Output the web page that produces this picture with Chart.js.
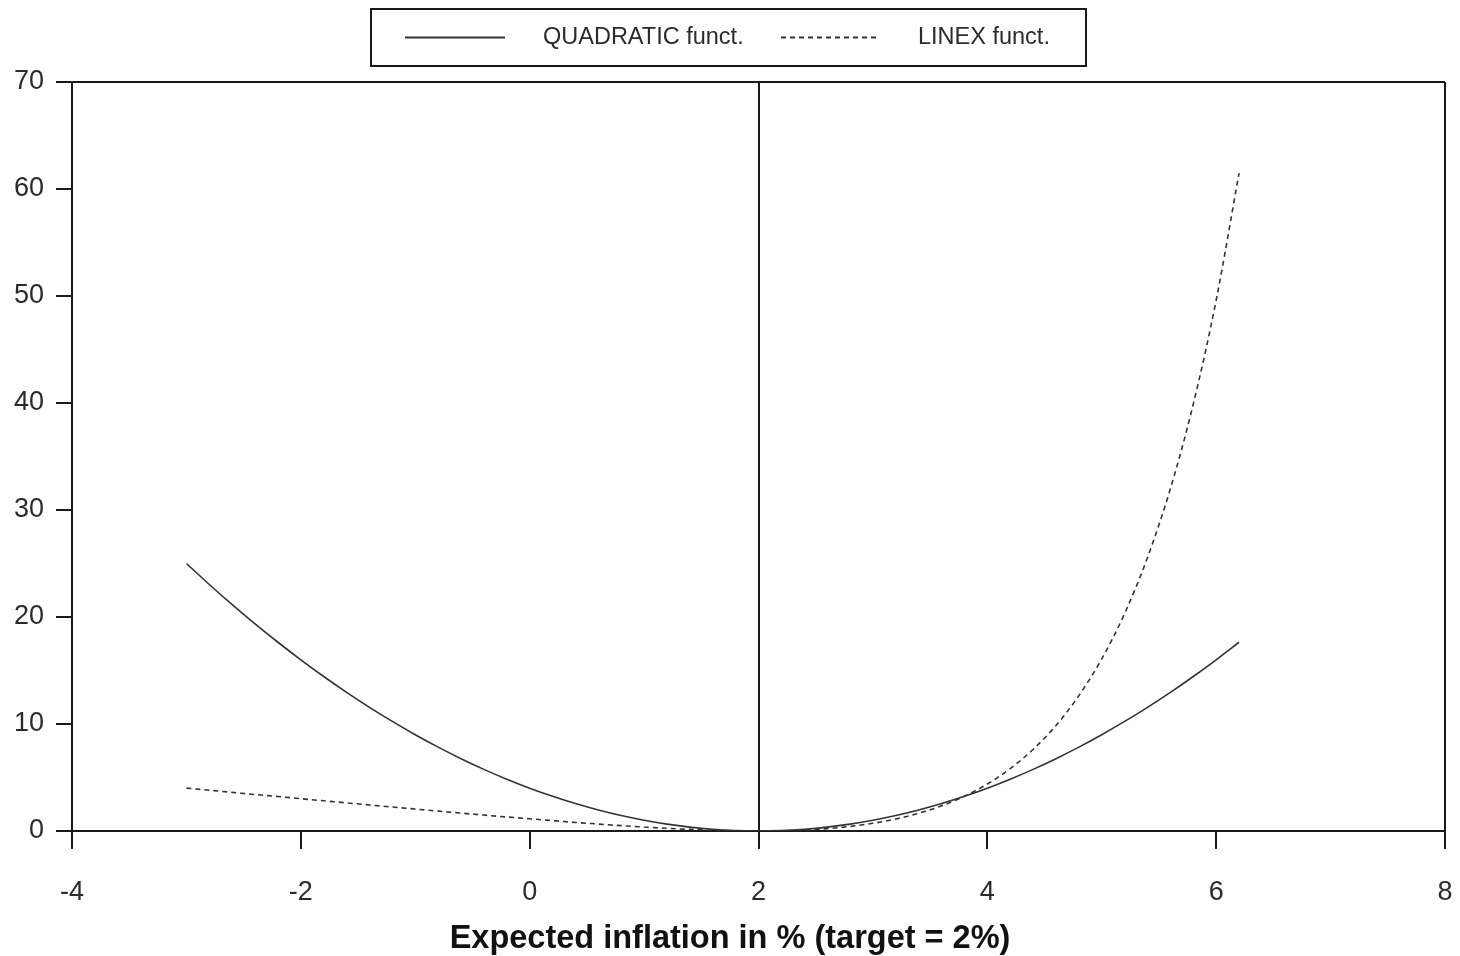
<!DOCTYPE html>
<html>
<head>
<meta charset="utf-8">
<title>Quadratic vs LINEX loss</title>
<script src="https://cdn.jsdelivr.net/npm/chart.js@4.4.1/dist/chart.umd.min.js"></script>
<style>
  html, body { margin: 0; padding: 0; background: #ffffff; }
  #wrap { width: 1460px; height: 956px; }
</style>
</head>
<body>
<div id="wrap"><canvas id="chart" width="1460" height="956"></canvas></div>
<script>
// Expected inflation (%) at which each loss is evaluated
const inflation = [-3, -2.8, -2.6, -2.4, -2.2, -2, -1.8, -1.6, -1.4, -1.2, -1, -0.8, -0.6, -0.4, -0.2,
  0, 0.2, 0.4, 0.6, 0.8, 1, 1.2, 1.4, 1.6, 1.8, 2, 2.2, 2.4, 2.6, 2.8, 3, 3.2, 3.4, 3.6, 3.8,
  4, 4.2, 4.4, 4.6, 4.8, 5, 5.2, 5.4, 5.6, 5.8, 6, 6.2];

// Loss values for the two functions
const quadraticLoss = [25, 23.04, 21.16, 19.36, 17.64, 16, 14.44, 12.96, 11.56, 10.24, 9, 7.84, 6.76, 5.76, 4.84,
  4, 3.24, 2.56, 1.96, 1.44, 1, 0.64, 0.36, 0.16, 0.04, 0, 0.04, 0.16, 0.36, 0.64, 1, 1.44, 1.96, 2.56, 3.24,
  4, 4.84, 5.76, 6.76, 7.84, 9, 10.24, 11.56, 12.96, 14.44, 16, 17.64];
const linexLoss = [4.01, 3.81, 3.61, 3.41, 3.22, 3.02, 2.82, 2.63, 2.43, 2.24, 2.05, 1.86, 1.67, 1.49, 1.31,
  1.14, 0.97, 0.80, 0.65, 0.50, 0.37, 0.25, 0.15, 0.07, 0.02, 0, 0.02, 0.09, 0.22, 0.43, 0.72, 1.12, 1.66, 2.35, 3.25,
  4.39, 5.83, 7.62, 9.86, 12.65, 16.09, 20.33, 25.56, 32.00, 39.90, 49.60, 61.49];

const seriesLabels = ['QUADRATIC funct.', 'LINEX funct.'];
const xTicks = [-4, -2, 0, 2, 4, 6, 8];
const yTicks = [0, 10, 20, 30, 40, 50, 60, 70];
const inflationTarget = 2;
const axisTitle = 'Expected inflation in % (target = 2%)';

const FONT = '"Liberation Sans", Arial, Helvetica, sans-serif';
const INK = '#1a1a1a';
const TEXT = '#2b2b2b';

function points(ys) {
  return inflation.map((x, i) => ({ x: x, y: ys[i] }));
}

// Framed legend drawn across the top of the canvas
const framedLegend = {
  id: 'framedLegend',
  afterDraw(chart) {
    const ctx = chart.ctx;
    ctx.save();
    ctx.strokeStyle = INK;
    ctx.lineWidth = 2;
    ctx.setLineDash([]);
    ctx.strokeRect(371, 9, 715, 57);

    const rowY = 37.5;
    const items = [
      { lineFrom: 405, lineTo: 505, textX: 543 },
      { lineFrom: 781, lineTo: 880, textX: 918 }
    ];
    chart.data.datasets.forEach((ds, i) => {
      const it = items[i];
      ctx.beginPath();
      ctx.strokeStyle = ds.borderColor;
      ctx.lineWidth = 2;
      ctx.setLineDash(ds.borderDash || []);
      ctx.moveTo(it.lineFrom, rowY);
      ctx.lineTo(it.lineTo, rowY);
      ctx.stroke();
      ctx.setLineDash([]);
      ctx.fillStyle = TEXT;
      ctx.font = '23.5px ' + FONT;
      ctx.textBaseline = 'middle';
      ctx.textAlign = 'left';
      ctx.fillText(ds.label, it.textX, rowY);
    });
    ctx.restore();
  }
};

new Chart(document.getElementById('chart'), {
  type: 'scatter',
  data: {
    datasets: [
      {
        label: seriesLabels[0],
        data: points(quadraticLoss),
        showLine: true,
        borderColor: '#333333',
        borderWidth: 1.6,
        pointRadius: 0,
        cubicInterpolationMode: 'monotone',
        fill: false
      },
      {
        label: seriesLabels[1],
        data: points(linexLoss),
        showLine: true,
        borderColor: '#333333',
        borderWidth: 1.6,
        borderDash: [5, 4],
        pointRadius: 0,
        cubicInterpolationMode: 'monotone',
        fill: false
      }
    ]
  },
  options: {
    responsive: false,
    animation: false,
    devicePixelRatio: 1,
    layout: { padding: { top: 82, right: 0, bottom: 0, left: 0 } },
    plugins: {
      legend: { display: false },
      tooltip: { enabled: false },
      title: {
        display: true,
        position: 'bottom',
        align: 'center',
        text: axisTitle,
        color: '#111111',
        font: { family: FONT, size: 32.5, weight: 'bold', lineHeight: 1.2 },
        padding: { top: 4, bottom: -3 }
      }
    },
    scales: {
      x: {
        type: 'linear',
        min: xTicks[0],
        max: xTicks[xTicks.length - 1],
        afterBuildTicks(scale) { scale.ticks = xTicks.map(v => ({ value: v })); },
        afterFit(scale) {
          scale.height = 85;
          scale.paddingRight = 15;
          scale.paddingLeft = 0;
        },
        border: { display: true, color: INK, width: 2 },
        grid: {
          drawOnChartArea: true,
          drawTicks: true,
          tickLength: 18,
          lineWidth: 2,
          tickWidth: 2,
          tickColor: INK,
          color: (c) => (c.tick && (c.tick.value === inflationTarget || c.tick.value === xTicks[xTicks.length - 1])) ? INK : 'rgba(0,0,0,0)'
        },
        ticks: {
          color: TEXT,
          padding: 27,
          maxRotation: 0,
          font: { family: FONT, size: 27 },
          callback: (v) => String(v)
        },
        title: { display: false }
      },
      y: {
        type: 'linear',
        min: yTicks[0],
        max: yTicks[yTicks.length - 1],
        afterBuildTicks(scale) { scale.ticks = yTicks.map(v => ({ value: v })); },
        afterFit(scale) { scale.width = 72; },
        border: { display: true, color: INK, width: 2 },
        grid: {
          drawOnChartArea: true,
          drawTicks: true,
          tickLength: 16,
          lineWidth: 2,
          tickWidth: 2,
          tickColor: INK,
          color: (c) => (c.tick && c.tick.value === yTicks[yTicks.length - 1]) ? INK : 'rgba(0,0,0,0)'
        },
        ticks: {
          color: TEXT,
          padding: 12,
          font: { family: FONT, size: 27 },
          callback: (v) => String(v)
        }
      }
    }
  },
  plugins: [framedLegend]
});
</script>
</body>
</html>
